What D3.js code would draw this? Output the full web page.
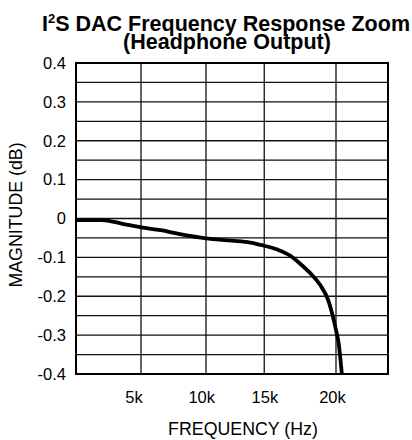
<!DOCTYPE html>
<html>
<head>
<meta charset="utf-8">
<script src="https://cdn.jsdelivr.net/npm/d3@7"></script>
<style>
  html, body { margin: 0; padding: 0; background: #fff; }
  svg { display: block; font-family: Arial, "Liberation Sans", sans-serif; }
</style>
</head>
<body>
<div id="chart"></div>
<script>
"use strict";

// frequency response (Hz, dB)
const freqs = [20, 2000, 3500, 5000, 6500, 8000, 10000, 12000, 13400, 14200, 15500, 16500, 17200, 18000, 18800, 19400, 20000, 20200, 20450]
    , magnitude = [-0.004, -0.004, -0.013, -0.023, -0.030, -0.040, -0.051, -0.057, -0.062, -0.068, -0.080, -0.096, -0.115, -0.140, -0.172, -0.210, -0.287, -0.320, -0.400]

// grid lines as drawn on the original (third line sits left of 15k)
const xGridFreqs = [5000, 10000, 14480, 20000]
    , xLabelFreqs = [4460, 9670, 14530, 19730]
    , xLabels = ['5k', '10k', '15k', '20k']
    , yTicks = [0.4, 0.3, 0.2, 0.1, 0, -0.1, -0.2, -0.3, -0.4]
    , yTickLabels = ['0.4', '0.3', '0.2', '0.1', '0', '-0.1', '-0.2', '-0.3', '-0.4']
    , yGrid = d3.range(-0.4, 0.4001, 0.05)

const width = 412
    , height = 440
    , margin = { top: 63, right: 24, bottom: 66, left: 76 }
    , w = width - margin.left - margin.right
    , h = height - margin.top - margin.bottom

const svg = d3.select('#chart').append('svg')
  .attr('width', width)
  .attr('height', height)

const x = d3.scaleLinear().domain([0, 24000]).range([0, w])
const y = d3.scaleLinear().domain([-0.4, 0.4]).range([h, 0])

/*
 * Title
 ***/
const title = svg.append('text')
  .attr('x', 226)
  .attr('y', 31)
  .attr('text-anchor', 'middle')
  .style('font-size', '21.5px')
  .style('font-weight', 'bold')

title.append('tspan').text('I')
title.append('tspan').text('2')
  .attr('dy', -8)
  .style('font-size', '13px')
title.append('tspan').text('S DAC Frequency Response Zoom')
  .attr('dy', 8)

svg.append('text')
  .attr('x', 227)
  .attr('y', 49)
  .attr('text-anchor', 'middle')
  .style('font-size', '21.5px')
  .style('font-weight', 'bold')
  .text('(Headphone Output)')

const g = svg.append('g')
  .attr('transform', `translate(${margin.left},${margin.top})`)

/*
 * Grid
 ***/
g.selectAll('line.hgrid')
  .data(yGrid)
  .enter().append('line')
  .attr('class', 'hgrid')
  .attr('x1', 0).attr('x2', w)
  .attr('y1', d => y(d)).attr('y2', d => y(d))
  .attr('stroke', '#111')
  .attr('stroke-width', 1.3)

g.selectAll('line.vgrid')
  .data(xGridFreqs)
  .enter().append('line')
  .attr('class', 'vgrid')
  .attr('y1', 0).attr('y2', h)
  .attr('x1', d => x(d)).attr('x2', d => x(d))
  .attr('stroke', '#111')
  .attr('stroke-width', 1.3)

/*
 * Curve, clipped to plot area
 ***/
g.append('clipPath').attr('id', 'plot-clip')
  .append('rect').attr('width', w).attr('height', h)

const line = d3.line()
  .x(d => x(d[0]))
  .y(d => y(d[1]))
  .curve(d3.curveMonotoneX)

g.append('path')
  .datum(d3.zip(freqs, magnitude))
  .attr('clip-path', 'url(#plot-clip)')
  .attr('fill', 'none')
  .attr('stroke', '#000')
  .attr('stroke-width', 3.8)
  .attr('stroke-linejoin', 'round')
  .attr('d', line)

// frame
g.append('rect')
  .attr('width', w)
  .attr('height', h)
  .attr('fill', 'none')
  .attr('stroke', '#000')
  .attr('stroke-width', 2)

/*
 * Tick labels
 ***/
g.selectAll('text.ylab')
  .data(yTicks)
  .enter().append('text')
  .attr('class', 'ylab')
  .attr('x', -10)
  .attr('y', d => y(d))
  .attr('dy', '0.35em')
  .attr('text-anchor', 'end')
  .style('font-size', '16.5px')
  .text((d, i) => yTickLabels[i])

g.selectAll('text.xlab')
  .data(xLabelFreqs)
  .enter().append('text')
  .attr('class', 'xlab')
  .attr('x', d => x(d))
  .attr('y', h + 29)
  .attr('text-anchor', 'middle')
  .style('font-size', '16.5px')
  .text((d, i) => xLabels[i])

/*
 * Axis titles
 ***/
svg.append('text')
  .attr('x', 243)
  .attr('y', 435)
  .attr('text-anchor', 'middle')
  .style('font-size', '17.8px')
  .text('FREQUENCY (Hz)')

svg.append('text')
  .attr('transform', `translate(21.5,215) rotate(-90)`)
  .attr('text-anchor', 'middle')
  .style('font-size', '17.8px')
  .text('MAGNITUDE (dB)')
</script>
</body>
</html>
